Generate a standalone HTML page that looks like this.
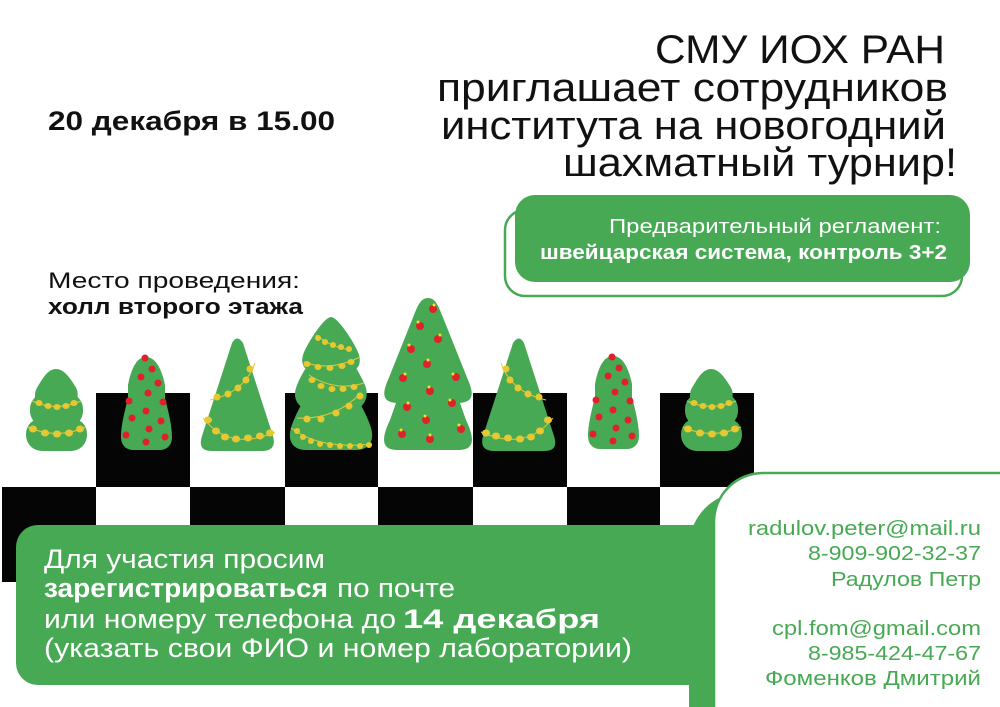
<!DOCTYPE html>
<html><head><meta charset="utf-8"><style>
html,body{margin:0;padding:0;background:#fff;width:1000px;height:707px;overflow:hidden;}
svg{display:block;}
text{font-family:"Liberation Sans",sans-serif;}
</style></head><body>
<svg width="1000" height="707" viewBox="0 0 1000 707" xmlns="http://www.w3.org/2000/svg" style="overflow:hidden">
<rect width="1000" height="707" fill="#fff"/>
<g fill="#111" font-size="40">
<text x="655" y="63" textLength="290" lengthAdjust="spacingAndGlyphs">СМУ ИОХ РАН</text>
<text x="437" y="101" textLength="511" lengthAdjust="spacingAndGlyphs">приглашает сотрудников</text>
<text x="441" y="139" textLength="505" lengthAdjust="spacingAndGlyphs">института на новогодний</text>
<text x="563" y="176" textLength="394" lengthAdjust="spacingAndGlyphs">шахматный турнир!</text>
</g>
<text x="48" y="130" font-size="27" font-weight="bold" fill="#111" textLength="287" lengthAdjust="spacingAndGlyphs">20 декабря в 15.00</text>
<text x="48" y="288" font-size="22" fill="#111" textLength="252" lengthAdjust="spacingAndGlyphs">Место проведения:</text>
<text x="48" y="314" font-size="22" font-weight="bold" fill="#111" textLength="255" lengthAdjust="spacingAndGlyphs">холл второго этажа</text>
<rect x="505" y="210" width="457" height="86" rx="20" fill="#fff" stroke="#47a953" stroke-width="2.5"/>
<rect x="515" y="195" width="455" height="87" rx="20" fill="#47a953"/>
<text x="609" y="233" font-size="20" fill="#fff" textLength="332" lengthAdjust="spacingAndGlyphs">Предварительный регламент:</text>
<text x="540" y="259" font-size="20" font-weight="bold" fill="#fff" textLength="407" lengthAdjust="spacingAndGlyphs">швейцарская система, контроль 3+2</text>
<g fill="#050505">
<rect x="96" y="393" width="94" height="94"/><rect x="285" y="393" width="93" height="94"/>
<rect x="473" y="393" width="94" height="94"/><rect x="660" y="393" width="94" height="94"/>
<rect x="2" y="487" width="94" height="95"/><rect x="190" y="487" width="95" height="95"/>
<rect x="378" y="487" width="95" height="95"/><rect x="567" y="487" width="93" height="95"/>
</g>
<defs>
<g id="bush">
<path d="M56,369 C64,369 70,378 75,386 C80,393 78,404 70,404 L42,404 C34,404 33,393 38,386 C43,378 48,369 56,369Z" fill="#47a953"/>
<rect x="30" y="393" width="53" height="34" rx="16" fill="#47a953"/>
<rect x="26" y="418" width="61" height="33" rx="16" fill="#47a953"/>
<path d="M32,401 Q56,412 81,401" stroke="#e8c832" fill="none" stroke-width="1"/>
<path d="M28,427 Q56,440 86,427" stroke="#e8c832" fill="none" stroke-width="1"/>
<g fill="#e8c832"><ellipse cx="39" cy="403" rx="3.5" ry="3"/><ellipse cx="48" cy="406" rx="3.5" ry="3"/><ellipse cx="57" cy="407" rx="3.5" ry="3"/><ellipse cx="66" cy="406" rx="3.5" ry="3"/><ellipse cx="74" cy="403" rx="3.5" ry="3"/>
<ellipse cx="33" cy="429" rx="4" ry="3.5"/><ellipse cx="45" cy="433" rx="4" ry="3.5"/><ellipse cx="57" cy="434" rx="4" ry="3.5"/><ellipse cx="69" cy="433" rx="4" ry="3.5"/><ellipse cx="80" cy="429" rx="4" ry="3.5"/></g>
</g>
<g id="slim">
<path d="M146,357 C156,357 162,370 165,385 L165,398 C168,410 172,425 172,437 C172,446 166,450 160,450 L133,450 C127,450 121,446 121,437 C121,425 125,410 128,398 L128,385 C131,370 136,357 146,357Z" fill="#47a953"/>
<g fill="#e0202a"><circle cx="145" cy="358" r="3.5"/><circle cx="152" cy="369" r="3.5"/><circle cx="141" cy="377" r="3.5"/><circle cx="158" cy="383" r="3.5"/><circle cx="148" cy="393" r="3.5"/><circle cx="129" cy="401" r="3.5"/><circle cx="163" cy="402" r="3.5"/><circle cx="146" cy="411" r="3.5"/><circle cx="132" cy="418" r="3.5"/><circle cx="161" cy="421" r="3.5"/><circle cx="149" cy="429" r="3.5"/><circle cx="126" cy="435" r="3.5"/><circle cx="165" cy="437" r="3.5"/><circle cx="146" cy="442" r="3.5"/></g>
</g>
<g id="cone">
<path d="M232,343 Q237,334 243,343 L273,436 Q277,451 262,451 L212,451 Q197,451 202,436 Z" fill="#47a953"/>
<path d="M255,363 Q245,392 210,400" stroke="#e8c832" fill="none" stroke-width="1"/>
<path d="M203,418 Q230,452 275,432" stroke="#e8c832" fill="none" stroke-width="1"/>
<g fill="#e8c832"><ellipse cx="250" cy="369" rx="3.5" ry="3.5"/><ellipse cx="246" cy="380" rx="3.5" ry="3.5"/><ellipse cx="238" cy="388" rx="3.5" ry="3.5"/><ellipse cx="228" cy="394" rx="3.5" ry="3.5"/><ellipse cx="217" cy="397" rx="3.5" ry="3.5"/>
<ellipse cx="208" cy="420" rx="4" ry="3.5"/><ellipse cx="216" cy="431" rx="4" ry="3.5"/><ellipse cx="225" cy="437" rx="4" ry="3.5"/><ellipse cx="236" cy="439" rx="4" ry="3.5"/><ellipse cx="248" cy="438" rx="4" ry="3.5"/><ellipse cx="260" cy="436" rx="4" ry="3.5"/><ellipse cx="270" cy="433" rx="4" ry="3.5"/></g>
</g>
</defs>
<use href="#bush"/>
<use href="#bush" transform="translate(655,0)"/>
<use href="#slim"/>
<use href="#slim" transform="translate(467,-1)"/>
<use href="#cone"/>
<use href="#cone" transform="matrix(-1,0,0,1,756,0)"/>
<g fill="#47a953">
<path d="M331,317 C338,317 356,345 359,355 C362,366 356,372 346,372 L316,372 C306,372 300,366 303,355 C306,345 324,317 331,317Z"/>
<path d="M331,340 C340,340 362,375 366,388 C369,400 362,410 350,410 L312,410 C300,410 292,400 296,388 C300,375 322,340 331,340Z"/>
<path d="M331,370 C342,370 366,410 371,428 C375,442 368,450 356,450 L306,450 C294,450 287,442 291,428 C296,410 320,370 331,370Z"/>
</g>
<g stroke="#e8c832" fill="none" stroke-width="1">
<path d="M316,335 Q332,348 352,350"/><path d="M304,362 Q330,372 360,357"/><path d="M309,375 Q335,392 364,383"/><path d="M361,393 Q335,420 297,418"/><path d="M291,428 Q320,450 372,444"/>
</g>
<g fill="#e8c832">
<ellipse cx="318" cy="338" rx="3" ry="3"/><ellipse cx="325" cy="342" rx="3" ry="3"/><ellipse cx="333" cy="345" rx="3" ry="3"/><ellipse cx="341" cy="347" rx="3" ry="3"/><ellipse cx="349" cy="349" rx="3" ry="3"/>
<ellipse cx="307" cy="364" rx="3.5" ry="3"/><ellipse cx="318" cy="367" rx="3.5" ry="3"/><ellipse cx="330" cy="368" rx="3.5" ry="3"/><ellipse cx="342" cy="366" rx="3.5" ry="3"/><ellipse cx="351" cy="362" rx="3.5" ry="3"/>
<ellipse cx="312" cy="380" rx="3.5" ry="3"/><ellipse cx="321" cy="386" rx="3.5" ry="3"/><ellipse cx="332" cy="389" rx="3.5" ry="3"/><ellipse cx="343" cy="389" rx="3.5" ry="3"/><ellipse cx="354" cy="387" rx="3.5" ry="3"/>
<ellipse cx="360" cy="396" rx="3.5" ry="3.5"/><ellipse cx="349" cy="406" rx="3.5" ry="3.5"/><ellipse cx="336" cy="413" rx="3.5" ry="3.5"/><ellipse cx="321" cy="419" rx="3.5" ry="3.5"/><ellipse cx="307" cy="419" rx="3.5" ry="3.5"/>
<ellipse cx="297" cy="431" rx="3" ry="3"/><ellipse cx="303" cy="437" rx="3" ry="3"/><ellipse cx="311" cy="441" rx="3" ry="3"/><ellipse cx="320" cy="444" rx="3" ry="3"/><ellipse cx="330" cy="445" rx="3" ry="3"/><ellipse cx="340" cy="446" rx="3" ry="3"/><ellipse cx="350" cy="446" rx="3" ry="3"/><ellipse cx="360" cy="446" rx="3" ry="3"/><ellipse cx="369" cy="445" rx="3" ry="3"/>
</g>
<path d="M428,298 C435,298 438,305 442,315 L468,380 C476,398 470,402 460,403 L466,420 C478,445 470,450 458,450 L398,450 C386,450 378,445 390,420 L396,403 C386,402 380,398 388,380 L414,315 C418,305 421,298 428,298Z" fill="#47a953"/>
<g fill="#e0202a"><circle cx="433" cy="309" r="4"/><circle cx="420" cy="326" r="4"/><circle cx="438" cy="339" r="4"/><circle cx="411" cy="349" r="4"/><circle cx="427" cy="364" r="4"/><circle cx="403" cy="378" r="4"/><circle cx="456" cy="377" r="4"/><circle cx="430" cy="391" r="4"/><circle cx="407" cy="407" r="4"/><circle cx="452" cy="403" r="4"/><circle cx="426" cy="420" r="4"/><circle cx="402" cy="434" r="4"/><circle cx="461" cy="429" r="4"/><circle cx="430" cy="439" r="4"/></g>
<g fill="#f0e020"><circle cx="434" cy="305" r="1.5"/><circle cx="418" cy="322" r="1.5"/><circle cx="440" cy="335" r="1.5"/><circle cx="409" cy="345" r="1.5"/><circle cx="428" cy="360" r="1.5"/><circle cx="405" cy="374" r="1.5"/><circle cx="453" cy="374" r="1.5"/><circle cx="429" cy="387" r="1.5"/><circle cx="408" cy="403" r="1.5"/><circle cx="450" cy="400" r="1.5"/><circle cx="425" cy="416" r="1.5"/><circle cx="401" cy="430" r="1.5"/><circle cx="459" cy="425" r="1.5"/><circle cx="430" cy="435" r="1.5"/></g>
<rect x="16" y="525" width="720" height="160" rx="22" fill="#47a953"/>
<g fill="#fff" font-size="27">
<text x="44" y="568" textLength="281" lengthAdjust="spacingAndGlyphs">Для участия просим</text>
<text x="44" y="597" font-weight="bold" textLength="284" lengthAdjust="spacingAndGlyphs">зарегистрироваться</text>
<text x="337" y="597" textLength="118" lengthAdjust="spacingAndGlyphs">по почте</text>
<text x="44" y="628" textLength="352" lengthAdjust="spacingAndGlyphs">или номеру телефона до</text>
<text x="403" y="628" font-weight="bold" textLength="197" lengthAdjust="spacingAndGlyphs">14 декабря</text>
<text x="44" y="657" textLength="588" lengthAdjust="spacingAndGlyphs">(указать свои ФИО и номер лаборатории)</text>
</g>
<path d="M689,707 L689,547 A55,55 0 0 1 744,492 L1000,492 L1000,707 Z" fill="#47a953"/>
<path d="M713,707 L713,522 A50,50 0 0 1 763,472 L1000,472 L1000,707 Z" fill="#fff"/>
<path d="M714,707 L714,522 A49,49 0 0 1 763,473 L1000,473" fill="none" stroke="#47a953" stroke-width="2.5"/>
<g fill="#47a953" font-size="20">
<text x="748" y="535" textLength="233" lengthAdjust="spacingAndGlyphs">radulov.peter@mail.ru</text>
<text x="808" y="560" textLength="173" lengthAdjust="spacingAndGlyphs">8-909-902-32-37</text>
<text x="831" y="586" textLength="150" lengthAdjust="spacingAndGlyphs">Радулов Петр</text>
<text x="772" y="635" textLength="209" lengthAdjust="spacingAndGlyphs">cpl.fom@gmail.com</text>
<text x="808" y="660" textLength="173" lengthAdjust="spacingAndGlyphs">8-985-424-47-67</text>
<text x="765" y="685" textLength="216" lengthAdjust="spacingAndGlyphs">Фоменков Дмитрий</text>
</g>
</svg>
</body></html>
